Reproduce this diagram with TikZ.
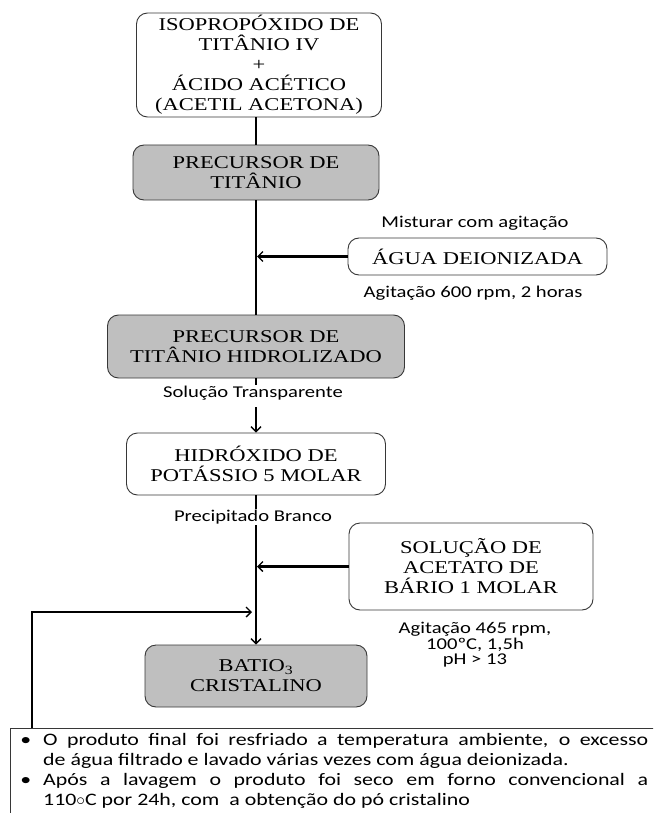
\documentclass[tikz,border=0pt]{standalone}
\usepackage{fontspec}
\setmainfont{Liberation Serif}[FakeStretch=1.25]
\newfontfamily\calibri{Carlito}[FakeStretch=1.25]
\usetikzlibrary{positioning,arrows.meta,calc}
\definecolor{boxgray}{RGB}{191,191,191}
\definecolor{edge}{RGB}{55,55,55}
\tikzset{
	>={Straight Barb[length=5pt,width=10pt,line width=1.3pt]}
}

\begin{document}
\begin{tikzpicture}[
x = 1pt, y = -1pt,
every node/.style = {
	font = \fontsize{18}{20}\selectfont
},
base/.style = {
	draw = edge,
	line width = 0.9pt,
	rounded corners = 11pt,
	align = center,
	inner sep = 0pt
},
reagente/.style = {base, fill = white},
etapa/.style = {base, fill = boxgray},
small/.style = {
	font = \calibri\fontsize{16.5}{15.5}\selectfont,
	align = center,
	inner sep = 1pt
},
notes/.style = {
	font = \calibri\fontsize{17.5}{20}\selectfont,
	text width = 605pt,
	align = justify,
	inner sep = 0pt,
	anchor = north west
},
flow/.style = {line width = 2.5pt},
frame/.style = {draw = edge, line width = 0.9pt}
]

\useasboundingbox (0,0) rectangle (653,813);
\clip (0,0) rectangle (653,813);

\node[reagente, minimum width=245pt, minimum height=104pt]	(mix)		at (259,65)		{ISOPROPÓXIDO DE\\ TITÂNIO IV\\ +\\ ÁCIDO ACÉTICO\\ (ACETIL ACETONA)};
\node[etapa, minimum width=246pt, minimum height=55pt]		(prec)		at (256,172.5)	{PRECURSOR DE\\ TITÂNIO};
\node[reagente, minimum width=259pt, minimum height=37pt]	(agua)		at (477.5,256.5){ÁGUA DEIONIZADA};
\node[etapa, minimum width=297pt, minimum height=63pt]		(hidrol)	at (256,346.5)	{PRECURSOR DE\\ TITÂNIO HIDROLIZADO};
\node[reagente, minimum width=259pt, minimum height=62pt]	(koh)		at (256,464)	{HIDRÓXIDO DE\\ POTÁSSIO 5 MOLAR};
\node[reagente, minimum width=244pt, minimum height=87pt]	(acetato)	at (471,566.5)	{SOLUÇÃO DE\\ ACETATO DE\\ BÁRIO 1 MOLAR};
\node[etapa, minimum width=222pt, minimum height=62pt]		(batio)		at (256,676)	{BATIO\textsubscript{3}\\ CRISTALINO};

\node[small]	(mistura)	at (475,223)	{Misturar com agitação};
\node[small]	(agit1)		at (473,293)	{Agitação 600 rpm, 2 horas};
\node[small]	(transp)	at (253,393)	{Solução Transparente};
\node[small]	(precip)	at (253,517)	{Precipitado Branco};
\node[small]	(agit2)		at (475,645)	{Agitação 465 rpm,\\ 100ºC, 1,5h\\ pH > 13};

\coordinate (quadro) at (10,728);
\coordinate (volta) at (32,612);
\draw[frame] (quadro) rectangle +(680,110);
\node[notes] (obs) at (43,733) {\noindent\llap{\textbullet\hspace{12pt}}O produto final foi resfriado a temperatura ambiente, o excesso\linebreak de água filtrado e lavado várias vezes com água deionizada.\par
\noindent\llap{\textbullet\hspace{12pt}}Após a lavagem o produto foi seco em forno convencional a\linebreak 110$\circ$C por 24h, com~ a obtenção do pó cristalino};

\draw[flow] (mix.south -| prec.south) -- (prec);
\draw[flow] (prec) -- (hidrol);
\draw[flow, ->, shorten >=1pt] (agua.west) -- (agua.west -| prec.south);
\draw[flow] (hidrol) -- (hidrol.south |- transp.north);
\draw[flow, ->, shorten <=6pt] (koh.north |- transp.south) -- (koh);
\draw[flow] (koh) -- (koh.south |- precip.north);
\draw[flow, ->] (batio.north |- precip.south) -- (batio);
\draw[flow, ->, shorten >=1pt] (acetato.west) -- (acetato.west -| koh.south);
\draw[flow, ->, shorten >=4pt] (quadro -| volta) -- (volta) -- (volta -| batio.north);
\end{tikzpicture}
\end{document}
